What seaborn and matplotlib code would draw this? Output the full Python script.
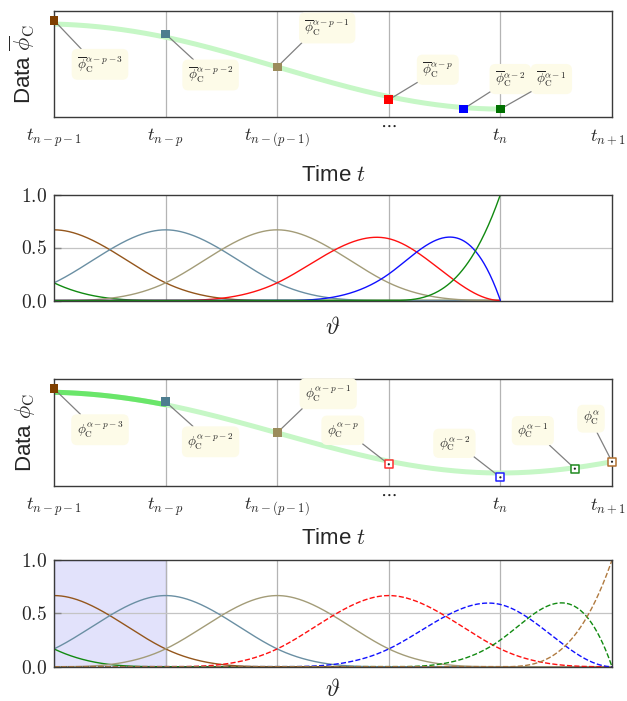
import numpy as np
import pandas as pd
import matplotlib
matplotlib.use("Agg")
import matplotlib.pyplot as plt
import matplotlib.transforms as mtransforms
import seaborn as sns

sns.set_theme(style="white")
plt.rcParams['font.family'] = ['Liberation Sans', 'DejaVu Sans']
plt.rcParams['mathtext.fontset'] = 'cm'

# ---------------- data ----------------
knots_top = [-3, -2, -1, 0, 1, 2, 3, 4, 4, 4, 4]
knots_bot = [-3, -2, -1, 0, 1, 2, 3, 4, 5, 5, 5, 5]
degree = 3

ctrl_top = [0.831, 0.912, 0.783, 0.472, 0.163, 0.075, 0.075]
ctrl_bot = [0.833, 0.909, 0.787, 0.498, 0.203, 0.081, 0.162, 0.227]

marker_x_top = [0, 1, 2, 3, 3.667, 4]
marker_x_bot = [0, 1, 2, 3, 4, 4.667, 5]

time_ticks = [0, 1, 2, 3, 4, 5]
time_labels = [r'$t_{n-p-1}$', r'$t_{n-p}$', r'$t_{n-(p-1)}$', r'$\cdots$', r'$t_n$', r'$t_{n+1}$']

sup_top = ['\\alpha-p-3', '\\alpha-p-2', '\\alpha-p-1', '\\alpha-p', '\\alpha-2', '\\alpha-1']
sup_bot = ['\\alpha-p-3', '\\alpha-p-2', '\\alpha-p-1', '\\alpha-p', '\\alpha-2', '\\alpha-1', '\\alpha']

# ---------------- styles ----------------
GREEN, BROWN, BLUEGRAY, TAN, RED, BLUE = '#118a11', '#94561c', '#6a8fa3', '#a39c78', '#ff1010', '#1010ff'
line_cols_top = [GREEN, BROWN, BLUEGRAY, TAN, RED, BLUE, GREEN]
line_cols_bot = [GREEN, BROWN, BLUEGRAY, TAN, RED, BLUE, GREEN, '#b07a40']
line_sty_bot = ['-'] * 4 + ['--'] * 4
mk_cols_top = ['#7f3f00', '#4d7d8f', '#9b8c5c', '#ff0000', '#0000ff', '#007000']
mk_cols_bot = ['#7f3f00', '#4d7d8f', '#9b8c5c', '#ff3030', '#2020ff', '#208a20', '#b07030']
mk_hollow_bot = [False, False, False, True, True, True, True]

off_top = [(46, -44), (45, -41), (50, 39), (49, 30), (47, 30), (51, 30)]
rel_top = [(0.2, 1), (0.25, 1), (0.05, 0), (0.0, 0), (0.0, 0), (0.0, 0)]
off_bot = [(46, -41), (45, -40), (51, 39), (-46, 34), (-46, 34), (-42, 38), (-21, 43)]
rel_bot = [(0.2, 1), (0.25, 1), (0.05, 0), (0.95, 0), (0.95, 0), (0.85, 0), (0.7, 0)]


def basis(i, k, t, x):
    t = np.asarray(t, float)
    if k == 0:
        r = ((x >= t[i]) & (x < t[i + 1])).astype(float)
        if t[i] < t[i + 1] and t[i + 1] == t[-1]:
            r[x == t[-1]] = 1.0
        return r
    out = np.zeros_like(x)
    if t[i + k] != t[i]:
        out += (x - t[i]) / (t[i + k] - t[i]) * basis(i, k - 1, t, x)
    if t[i + k + 1] != t[i + 1]:
        out += (t[i + k + 1] - x) / (t[i + k + 1] - t[i + 1]) * basis(i + 1, k - 1, t, x)
    return out


fig = plt.figure(figsize=(6.27, 7.01), dpi=100)
W, H = 627, 701
def pos(x0, x1, y0, y1):
    return [x0 / W, 1 - y1 / H, (x1 - x0) / W, (y1 - y0) / H]

ax1 = fig.add_axes(pos(54, 612, 11, 117))
ax2 = fig.add_axes(pos(54, 612, 194.5, 300.5))
ax3 = fig.add_axes(pos(54, 612, 379, 486))
ax4 = fig.add_axes(pos(54, 612, 560, 666.7))

for ax in (ax1, ax2, ax3, ax4):
    ax.set_xlim(0, 5)
    ax.set_ylim(0, 1)
    for s in ax.spines.values():
        s.set_color('#3a3a3a')
        s.set_linewidth(1.0)
    for xv in [1, 2, 3, 4]:
        ax.axvline(xv, color='#b4b4b4', lw=0.9, zorder=0.5)


def data_panel(ax, knots, ctrl, mx, cols, hollow, sups, offs, rels, xend, bar, ylab, strong, xpad):
    x = np.linspace(0, xend, 600)
    y = sum(c * basis(i, degree, knots, x) for i, c in enumerate(ctrl))
    df = pd.DataFrame({'x': x, 'y': y})
    sns.lineplot(data=df, x='x', y='y', ax=ax, color='#c6f7c6', lw=3.6, zorder=2,
                 estimator=None, sort=False)
    if strong:
        d2 = df[df.x <= 1]
        sns.lineplot(data=d2, x='x', y='y', ax=ax, color='#6ae66a', lw=3.6, zorder=2.1,
                     estimator=None, sort=False)
    my = ctrl[1:]
    for j, (xx, yy) in enumerate(zip(mx, my)):
        ov = '\\overline{\\phi}' if bar else '\\phi'
        ax.annotate(r'$%s_\mathrm{C}^{%s}$' % (ov, sups[j]), xy=(xx, yy), xytext=offs[j],
                    textcoords='offset pixels', ha='center', va='center', fontsize=9.5,
                    annotation_clip=False, zorder=3,
                    bbox=dict(boxstyle='round,pad=0.4,rounding_size=0.45', fc='#fdfbe8', ec='none'),
                    arrowprops=dict(arrowstyle='-', color='#808080', lw=0.9, shrinkA=0, shrinkB=0,
                                    relpos=rels[j]))
        if hollow[j]:
            sns.scatterplot(x=[xx], y=[yy], ax=ax, marker='s', s=34, color='white',
                            edgecolor=cols[j], linewidth=1.1, zorder=5, clip_on=False)
            sns.scatterplot(x=[xx], y=[yy], ax=ax, marker='o', s=2.5, color='#222222',
                            edgecolor='none', zorder=6, clip_on=False)
        else:
            sns.scatterplot(x=[xx], y=[yy], ax=ax, marker='s', s=40, color=cols[j],
                            edgecolor='none', zorder=5, clip_on=False)
    ax.set_yticks([])
    ax.set_xticks(time_ticks)
    ax.set_xticklabels([''] * len(time_ticks))
    ax.tick_params(axis='x', length=0)
    # tick labels as text so the dots can sit higher, like the reference
    n = len(time_ticks)
    for k, (xv, lab) in enumerate(zip(time_ticks, time_labels)):
        dy = -24 if lab != r'$\cdots$' else -13
        dx = -4 if k == n - 1 else 0
        tr = mtransforms.offset_copy(ax.get_xaxis_transform(), fig=fig, x=dx, y=dy, units='dots')
        ax.text(xv, 0, lab, transform=tr, ha='center', va='baseline', fontsize=13, clip_on=False)
    ax.set_xlabel('Time $t$', fontsize=16, labelpad=xpad)
    ax.set_ylabel(ylab, fontsize=16, labelpad=12)


def basis_panel(ax, knots, cols, styles, xend, shade, lpad):
    if shade:
        ax.axvspan(0, 1, fc='#e2e2fb', ec='#b9b9e6', lw=1.0, zorder=0.3)
    x = np.linspace(0, xend, 600)
    nb = len(knots) - degree - 1
    for i in range(nb):
        y = basis(i, degree, knots, x)
        sns.lineplot(x=x, y=y, ax=ax, color=cols[i], lw=1.0, linestyle=styles[i], zorder=2,
                     estimator=None, sort=False)
    ax.axhline(0.5, color='#c4c4c4', lw=0.9, zorder=0.5)
    ax.set_xticks([])
    ax.set_yticks([0, 0.5, 1.0])
    ax.set_yticklabels([r'$0.0$', r'$0.5$', r'$1.0$'], fontsize=14)
    ax.tick_params(axis='y', direction='in', length=5, width=1, color='#888888', pad=5, left=True)
    ax.set_xlabel(r'$\vartheta$', fontsize=17, labelpad=lpad)
    ax.set_ylabel('')


data_panel(ax1, knots_top, ctrl_top, marker_x_top, mk_cols_top, [False] * 6, sup_top,
           off_top, rel_top, 4, True, r'Data $\overline{\phi}_\mathrm{C}$', False, 31)
basis_panel(ax2, knots_top, line_cols_top, ['-'] * 7, 4, False, 12)
data_panel(ax3, knots_bot, ctrl_bot, marker_x_bot, mk_cols_bot, mk_hollow_bot, sup_bot,
           off_bot, rel_bot, 5, False, r'Data $\phi_\mathrm{C}$', True, 27)
basis_panel(ax4, knots_bot, line_cols_bot, line_sty_bot, 5, True, 9)

fig.savefig('out.png', dpi=100)
